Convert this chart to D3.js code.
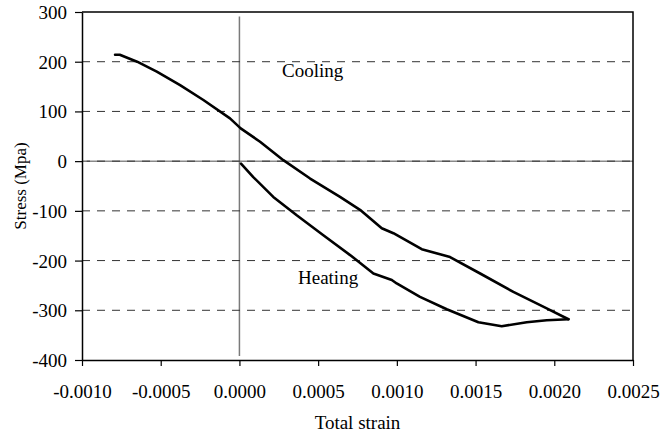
<!DOCTYPE html>
<html>
<head>
<meta charset="utf-8">
<script src="https://cdn.jsdelivr.net/npm/d3@7"></script>
<style>
  html, body { margin: 0; padding: 0; background: #fff; }
  svg { display: block; }
</style>
</head>
<body>
<svg id="chart" width="660" height="433"></svg>
<script>
// ---- data ----
const coolingStrain = [-0.00079, -0.00076, -0.00065, -0.000525, -0.000377, -0.000229, -0.00006, 0.000008, 0.000131, 0.000279, 0.000449, 0.000639, 0.000766, 0.000904, 0.000978, 0.001158, 0.001338, 0.001529, 0.00174, 0.001952, 0.00209];
const coolingStress = [214, 214, 200, 180, 153, 123, 86, 66, 39, 2, -35, -72, -98, -135, -145, -177, -193, -226, -263, -296, -318];
const heatingStrain = [0.00001, 0.000088, 0.000215, 0.000364, 0.000533, 0.000703, 0.000851, 0.000968, 0.000999, 0.001147, 0.001317, 0.001518, 0.001666, 0.001825, 0.001952, 0.00209];
const heatingStress = [-5, -32, -72, -109, -149, -189, -226, -239, -246, -273, -298, -324, -332, -324, -320, -318];
const xTicks = [-0.0010, -0.0005, 0.0000, 0.0005, 0.0010, 0.0015, 0.0020, 0.0025];
const yTicks = [-400, -300, -200, -100, 0, 100, 200, 300];
const gridValues = [-300, -200, -100, 0, 100, 200];
const xDomain = [-0.0010, 0.0025];
const yDomain = [-400, 300];
const labels = { x: "Total strain", y: "Stress (Mpa)", cooling: "Cooling", heating: "Heating" };

// ---- drawing ----
const FONT = "'Liberation Serif', 'Times New Roman', Tinos, 'DejaVu Serif', serif";
const svg = d3.select("#chart").attr("font-family", FONT);
const L = 82, R = 633, T = 12, B = 360;
const x = d3.scaleLinear().domain(xDomain).range([L, R]);
const y = d3.scaleLinear().domain(yDomain).range([B, T]);
const fontSize = 19;
const hyphen = s => s.replace("\u2212", "-");

// zero reference lines (gray, solid)
svg.append("line")
  .attr("x1", x(-0.00097)).attr("x2", x(0.0025))
  .attr("y1", y(0)).attr("y2", y(0))
  .attr("stroke", "#8a8a8a").attr("stroke-width", 1.5);
svg.append("line")
  .attr("x1", x(0)).attr("x2", x(0))
  .attr("y1", y(291)).attr("y2", y(-392))
  .attr("stroke", "#7a7a7a").attr("stroke-width", 1.5);

// dashed gridlines
svg.append("g").selectAll("line").data(gridValues).join("line")
  .attr("x1", L).attr("x2", R)
  .attr("y1", d => y(d)).attr("y2", d => y(d))
  .attr("stroke", "#333").attr("stroke-width", 1)
  .attr("stroke-dasharray", "8,7");

// frame (top & right)
svg.append("path")
  .attr("d", `M${L},${T}H${R}V${B}`)
  .attr("fill", "none").attr("stroke", "#000").attr("stroke-width", 1.5);

// axes
const xAxis = d3.axisBottom(x).tickValues(xTicks).tickSize(6).tickSizeOuter(0)
  .tickFormat(d => hyphen(d3.format(".4f")(d)));
const gx = svg.append("g").attr("transform", `translate(0,${B})`).call(xAxis)
  .attr("font-family", FONT).attr("font-size", fontSize);
gx.select(".domain").attr("stroke-width", 1.5);
gx.selectAll(".tick line").attr("stroke-width", 1.2);
gx.selectAll(".tick text").attr("fill", "#000")
  .attr("y", 0).attr("dy", null).attr("transform", "translate(0,38)");

const yAxis = d3.axisLeft(y).tickValues(yTicks).tickSize(7).tickSizeOuter(0)
  .tickFormat(d => hyphen(d3.format("d")(d)));
const gy = svg.append("g").attr("transform", `translate(${L},0)`).call(yAxis)
  .attr("font-family", FONT).attr("font-size", fontSize);
gy.select(".domain").attr("stroke-width", 1.5);
gy.selectAll(".tick line").attr("stroke-width", 1.2);
gy.selectAll(".tick text").attr("fill", "#000")
  .attr("x", -15).attr("dy", "0.34em");
svg.selectAll(".domain, .tick line").attr("stroke", "#000");

// curves
const line = d3.line().x(d => x(d[0])).y(d => y(d[1]));
const cooling = coolingStrain.map((s, i) => [s, coolingStress[i]]);
const heating = heatingStrain.map((s, i) => [s, heatingStress[i]]);
[cooling, heating].forEach(data => {
  svg.append("path").datum(data)
    .attr("d", line)
    .attr("fill", "none").attr("stroke", "#000")
    .attr("stroke-width", 2.6).attr("stroke-linejoin", "round").attr("stroke-linecap", "round");
});

// annotations
svg.append("text").attr("x", 282).attr("y", 77).attr("font-size", fontSize).text(labels.cooling);
svg.append("text").attr("x", 298).attr("y", 284).attr("font-size", fontSize).text(labels.heating);

// axis titles
svg.append("text").attr("x", (L + R) / 2).attr("y", 429)
  .attr("text-anchor", "middle").attr("font-size", fontSize).text(labels.x);
svg.append("text").attr("transform", `translate(26,${(T + B) / 2}) rotate(-90)`)
  .attr("text-anchor", "middle").attr("font-size", 17).text(labels.y);
</script>
</body>
</html>
